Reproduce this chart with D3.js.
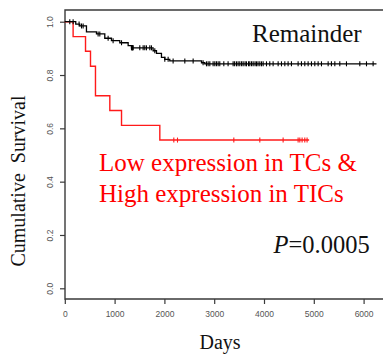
<!DOCTYPE html>
<html><head><meta charset="utf-8">
<script src="https://cdn.jsdelivr.net/npm/d3@7"></script>
<style>
html,body{margin:0;padding:0;background:#fff;}
svg{display:block;}
</style></head>
<body>
<svg id="chart" width="383" height="355"></svg>
<script>
// ---- data ----
const xTicks = [0, 1000, 2000, 3000, 4000, 5000, 6000];
const yTicks = [0.0, 0.2, 0.4, 0.6, 0.8, 1.0];

// Remainder group: [day, survival after step]
const remainderSteps = [[0,1.0],[220,0.991],[300,0.984],[435,0.962],[636,0.954],[803,0.938],[937,0.929],[1104,0.921],[1272,0.910],[1339,0.902],[1773,0.891],[1841,0.881],[1941,0.866],[2008,0.859],[2108,0.853],[2745,0.846],[2811,0.842]];
const remainderEnd = 6259;
const remainderCensor = [100,167,287,335,368,669,703,870,970,1139,1339,1350,1359,1365,1372,1506,1573,1606,1640,1707,1740,1807,2008,2075,2175,2410,2577,2777,2845,2878,2912,2978,3012,3045,3079,3112,3193,3279,3380,3410,3447,3480,3514,3550,3581,3620,3648,3690,3715,3750,3782,3820,3849,3880,3916,3950,3983,4050,4116,4183,4284,4351,4418,4484,4551,4685,4752,4819,4886,4953,5020,5087,5154,5288,5354,5422,5522,5656,5924,6058,6191];

// Low TCs & High TICs group
const lowHighSteps = [[0,1.0],[167,0.944],[416,0.889],[516,0.833],[616,0.722],[904,0.667],[1139,0.611],[1908,0.556]];
const lowHighEnd = 4906;
const lowHighCensor = [2189,2263,3394,3916,4384,4685,4719,4765,4819,4865];

const svg = d3.select("#chart");
const x = d3.scaleLinear().domain([0, 6000]).range([64.8, 363.6]);
const y = d3.scaleLinear().domain([0, 1]).range([288.3, 21.7]);

const frameL = 65, frameT = 10, frameB = 299, frameR = 383;
const axisCol = "#3a3a3a";

// frame
svg.append("path")
  .attr("d", `M${frameR},${frameT}H${frameL}V${frameB}H${frameR}`)
  .attr("fill","none").attr("stroke",axisCol).attr("stroke-width",1.4);

// x axis
const gx = svg.append("g").attr("transform",`translate(0,${frameB})`)
  .call(d3.axisBottom(x).tickValues(xTicks).tickSize(5).tickSizeOuter(0).tickFormat(d3.format("d")));
gx.select(".domain").remove();
gx.selectAll(".tick line").attr("stroke",axisCol).attr("stroke-width",1.2);
gx.selectAll(".tick text").attr("y",12).attr("dy","0.71em")
  .attr("font-family","Liberation Sans, Arial, sans-serif").attr("font-size",8.5).attr("fill","#555");

// y axis
const gy = svg.append("g").attr("transform",`translate(${frameL},0)`)
  .call(d3.axisLeft(y).tickValues(yTicks).tickSize(5).tickSizeOuter(0).tickFormat(d3.format(".1f")));
gy.select(".domain").remove();
gy.selectAll(".tick line").attr("stroke",axisCol).attr("stroke-width",1.2);
gy.selectAll(".tick text")
  .attr("x",null).attr("dy",null)
  .attr("transform","translate(-12.5,0) rotate(-90)")
  .attr("text-anchor","middle")
  .attr("font-family","Liberation Sans, Arial, sans-serif").attr("font-size",8.5).attr("fill","#555");

// curves
const line = d3.line().x(d=>x(d[0])).y(d=>y(d[1])).curve(d3.curveStepAfter);
function survAt(steps, t){ let s = steps[0][1]; for (const p of steps){ if (p[0] <= t) s = p[1]; } return s; }
function drawCurve(steps, end, censor, color, w){
  const pts = steps.concat([[end, steps[steps.length-1][1]]]);
  svg.append("path").attr("d", line(pts)).attr("fill","none").attr("stroke",color).attr("stroke-width",w);
  svg.append("g").selectAll("line").data(censor).join("line")
    .attr("x1",d=>x(d)).attr("x2",d=>x(d))
    .attr("y1",d=>y(survAt(steps,d))-2.5).attr("y2",d=>y(survAt(steps,d))+2.5)
    .attr("stroke",color).attr("stroke-width",1.1);
}
drawCurve(lowHighSteps, lowHighEnd, lowHighCensor, "#ff1a1a", 1.4);
drawCurve(remainderSteps, remainderEnd, remainderCensor, "#000", 1.3);

// texts
const serif = "Liberation Serif, Times New Roman, serif";
svg.append("text").attr("x",252).attr("y",41.5).attr("font-family",serif).attr("font-size",25).attr("fill","#111").text("Remainder");
svg.append("text").attr("x",99).attr("y",170.5).attr("font-family",serif).attr("font-size",25).attr("fill","#ff0000").text("Low expression in TCs &");
svg.append("text").attr("x",99).attr("y",201.5).attr("font-family",serif).attr("font-size",25).attr("fill","#ff0000").text("High expression in TICs");
const pt = svg.append("text").attr("x",273.5).attr("y",253).attr("font-family",serif).attr("font-size",24.5).attr("fill","#111");
pt.append("tspan").attr("font-style","italic").text("P");
pt.append("tspan").text("=0.0005");
svg.append("text").attr("x",220).attr("y",349).attr("text-anchor","middle").attr("font-family",serif).attr("font-size",20).attr("fill","#111").text("Days");
svg.append("text").attr("transform","translate(25,181) rotate(-90)").attr("text-anchor","middle")
  .attr("font-family",serif).attr("font-size",20).attr("fill","#111").attr("xml:space","preserve").text("Cumulative  Survival");
</script>
</body></html>
